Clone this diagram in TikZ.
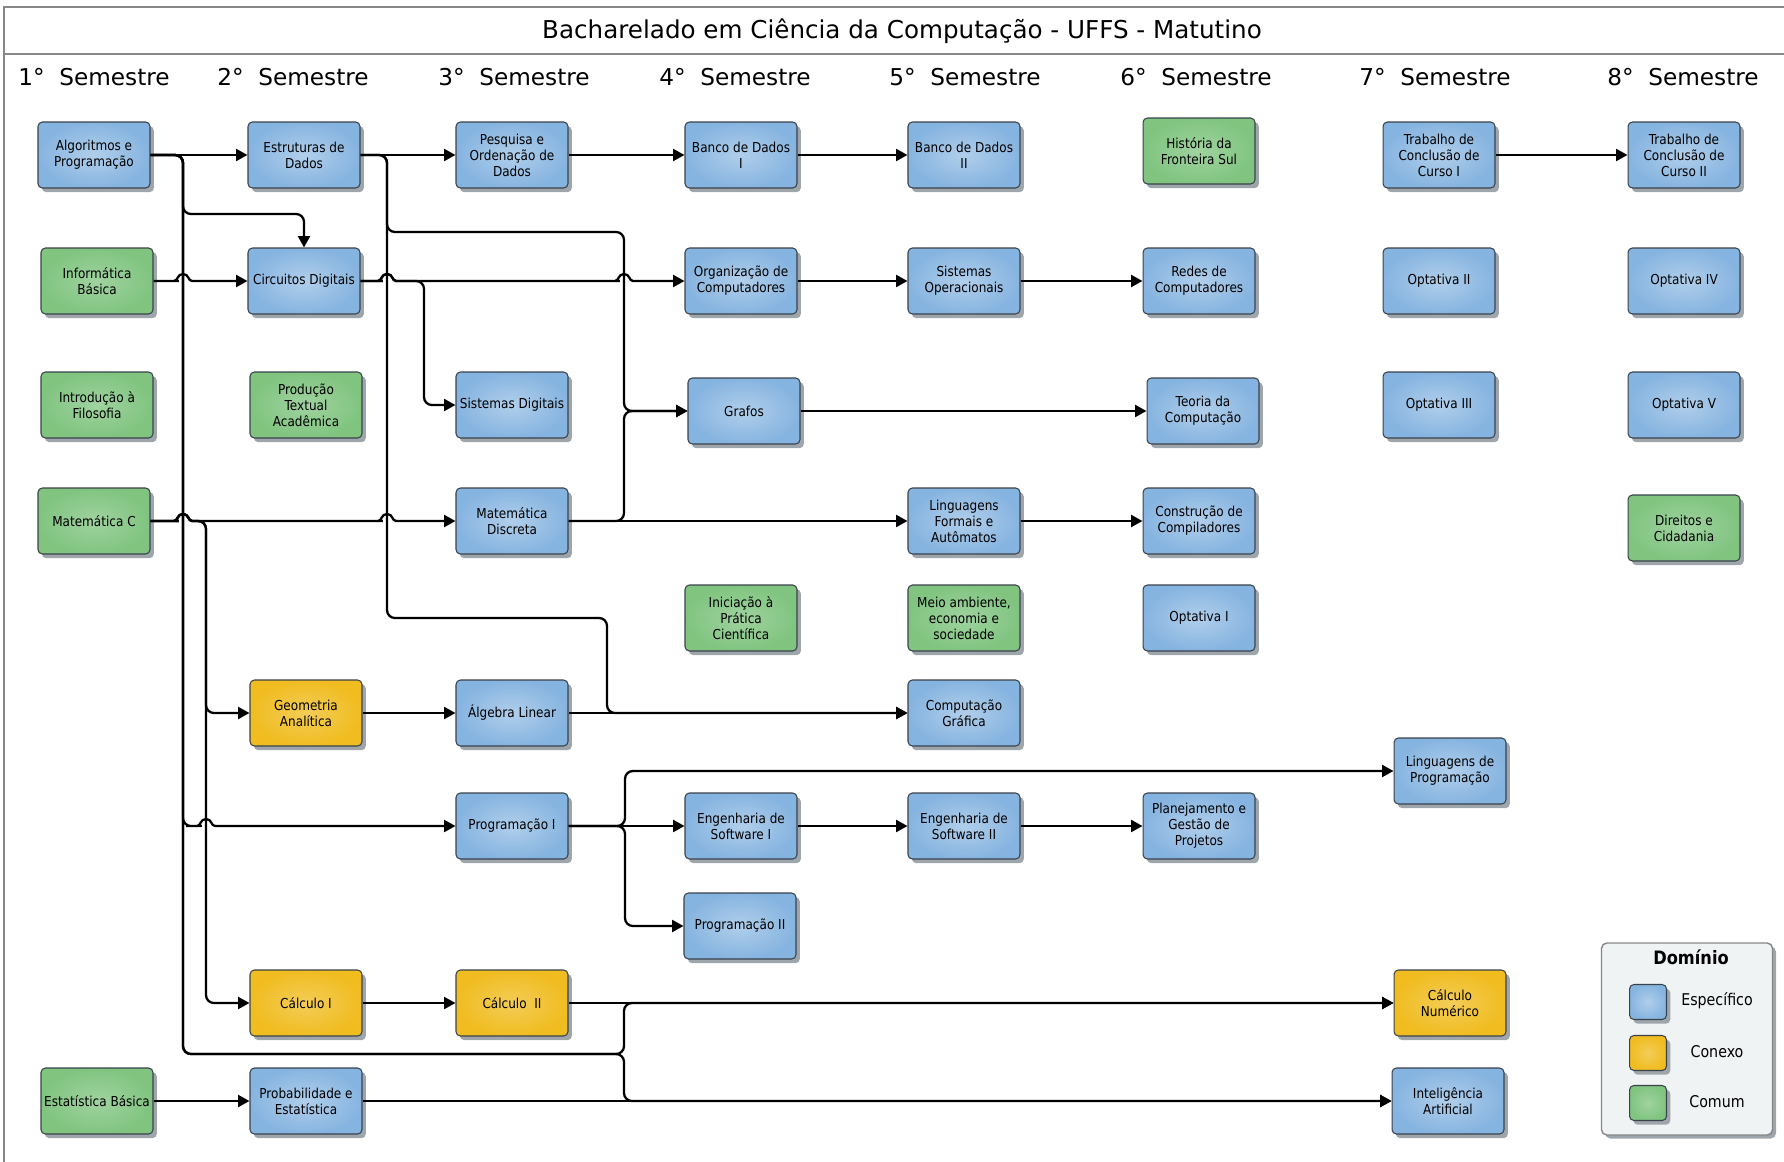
\documentclass[tikz,border=0pt]{standalone}
\usepackage{fontspec}
\setmainfont{DejaVu Sans}
\newfontfamily\boxfont{DejaVu Sans}[FakeStretch=0.88]
\usetikzlibrary{arrows.meta,shadows}

\definecolor{espec}{RGB}{134,180,224}
\definecolor{conexo}{RGB}{240,188,32}
\definecolor{comum}{RGB}{128,196,128}
\definecolor{borda}{RGB}{58,66,76}
\definecolor{sombra}{RGB}{158,166,172}
\definecolor{fundo}{RGB}{240,243,244}
\definecolor{moldura}{RGB}{135,135,135}

% pulo de uma linha horizontal sobre uma vertical em x=#1
\newcommand\pulo[2]{-- ({#1-12},#2) [sharp corners] -- ({#1-9},#2)
  .. controls ({#1-5},#2) and ({#1-6},{#2-7}) .. (#1,{#2-7})
  .. controls ({#1+6},{#2-7}) and ({#1+5},#2) .. ({#1+9},#2)
  -- ({#1+12},#2) [rounded corners=4.5pt]}

\begin{document}
\begin{tikzpicture}[x=0.02cm,y=-0.02cm,
  disc/.style={rectangle,rounded corners=2.5pt,draw=borda,line width=.6pt,
    minimum width=2.24cm,minimum height=1.32cm,inner sep=1pt,align=center,
    font=\boxfont\fontsize{7.8}{9.1}\selectfont,
    general shadow={fill=sombra,shadow xshift=2.2pt,shadow yshift=-2.4pt}},
  esp/.style={disc,inner color=espec!65!white,outer color=espec},
  cnx/.style={disc,inner color=conexo!75!white,outer color=conexo},
  com/.style={disc,inner color=comum!75!white,outer color=comum},
  link/.style={line width=1.3pt,rounded corners=4.5pt,
    -{Triangle[length=6.5pt,width=6.8pt]}},
  semestre/.style={font=\fontsize{13.2}{15}\selectfont}]
\useasboundingbox (0,0) rectangle (1784,1162);
% moldura e titulo
\draw[moldura,line width=.9pt] (1784,7) -- (4,7) -- (4,1162);
\draw[moldura,line width=.9pt] (4,54) -- (1784,54);
\node[font=\fontsize{14}{16}\selectfont] (titulo) at (902,31)
  {Bacharelado em Ciência da Computação - UFFS - Matutino};
\foreach \n/\x in {1/94,2/293,3/514,4/735,5/965,6/1196,7/1435,8/1683}
  \node[semestre] (sem\n) at (\x,77) {\n°\ \ Semestre};

% 1o semestre
\node[esp] (alg)  at (94,155)  {Algoritmos e\\Programação};
\node[com] (infb) at (97,281)  {Informática\\Básica};
\node[com] (ifil) at (97,405)  {Introdução à\\Filosofia};
\node[com] (matc) at (94,521)  {Matemática C};
\node[com] (estb) at (97,1101) {Estatística Básica};
% 2o semestre
\node[esp] (ed)    at (304,155)  {Estruturas de\\Dados};
\node[esp] (cd)    at (304,281)  {Circuitos Digitais};
\node[com] (ptac)  at (306,405)  {Produção\\Textual\\Acadêmica};
\node[cnx] (ga)    at (306,713)  {Geometria\\Analítica};
\node[cnx] (calc1) at (306,1003) {Cálculo I};
\node[esp] (probe) at (306,1101) {Probabilidade e\\Estatística};
% 3o semestre
\node[esp] (pod)   at (512,155)  {Pesquisa e\\Ordenação de\\Dados};
\node[esp] (sd)    at (512,405)  {Sistemas Digitais};
\node[esp] (md)    at (512,521)  {Matemática\\Discreta};
\node[esp] (al)    at (512,713)  {Álgebra Linear};
\node[esp] (prog1) at (512,826)  {Programação I};
\node[cnx] (calc2) at (512,1003) {Cálculo\ \ II};
% 4o semestre
\node[esp] (bd1)   at (741,155) {Banco de Dados\\I};
\node[esp] (oc)    at (741,281) {Organização de\\Computadores};
\node[esp] (graf)  at (744,411) {Grafos};
\node[com] (ipc)   at (741,618) {Iniciação à\\Prática\\Científica};
\node[esp] (es1)   at (741,826) {Engenharia de\\Software I};
\node[esp] (prog2) at (740,926) {Programação II};
% 5o semestre
\node[esp] (bd2)  at (964,155) {Banco de Dados\\II};
\node[esp] (so)   at (964,281) {Sistemas\\Operacionais};
\node[esp] (lfa)  at (964,521) {Linguagens\\Formais e\\Autômatos};
\node[com] (meio) at (964,618) {Meio ambiente,\\economia e\\sociedade};
\node[esp] (cg)   at (964,713) {Computação\\Gráfica};
\node[esp] (es2)  at (964,826) {Engenharia de\\Software II};
% 6o semestre
\node[com] (hfs)  at (1199,151) {História da\\Fronteira Sul};
\node[esp] (rc)   at (1199,281) {Redes de\\Computadores};
\node[esp] (tc)   at (1203,411) {Teoria da\\Computação};
\node[esp] (cc)   at (1199,521) {Construção de\\Compiladores};
\node[esp] (opt1) at (1199,618) {Optativa I};
\node[esp] (pgp)  at (1199,826) {Planejamento e\\Gestão de\\Projetos};
% 7o semestre
\node[esp] (tcc1) at (1439,155)  {Trabalho de\\Conclusão de\\Curso I};
\node[esp] (opt2) at (1439,281)  {Optativa II};
\node[esp] (opt3) at (1439,405)  {Optativa III};
\node[esp] (lp)   at (1450,771)  {Linguagens de\\Programação};
\node[cnx] (cn)   at (1450,1003) {Cálculo\\Numérico};
\node[esp] (ia)   at (1448,1101) {Inteligência\\Artificial};
% 8o semestre
\node[esp] (tcc2) at (1684,155) {Trabalho de\\Conclusão de\\Curso II};
\node[esp] (opt4) at (1684,281) {Optativa IV};
\node[esp] (opt5) at (1684,405) {Optativa V};
\node[com] (dc)   at (1684,528) {Direitos e\\Cidadania};

% pre-requisitos
\draw[link] (alg.east) -- (ed.west);
\draw[link] (alg.east) -| (183,214) -| (cd.north);
\draw[link] (alg.east) -| (183,826) \pulo{206}{826} -- (prog1.west);
\draw[link] (alg.east) -| (183,1054) -| (624,1003) -- (cn.west);
\draw[link] (alg.east) -| (183,1054) -| (624,1101) -- (ia.west);
\draw[link] (infb.east) \pulo{183}{281} -- (cd.west);
\draw[link] (matc.east) \pulo{183}{521} \pulo{387}{521} -- (md.west);
\draw[link] (matc.east) \pulo{183}{521} -| (206,713) -- (ga.west);
\draw[link] (matc.east) \pulo{183}{521} -| (206,1003) -- (calc1.west);
\draw[link] (ed.east) -- (pod.west);
\draw[link] (ed.east) -| (387,232) -| (624,411) -- (graf.west);
\draw[link] (ed.east) -| (387,618) -| (607,713) -- (cg.west);
\draw[link] (cd.east) \pulo{387}{281} \pulo{624}{281} -- (oc.west);
\draw[link] (cd.east) \pulo{387}{281} -| (424,405) -- (sd.west);
\draw[link] (md.east) -- (lfa.west);
\draw[link] (md.east) -| (624,411) -- (graf.west);
\draw[link] (ga.east) -- (al.west);
\draw[link] (al.east) -- (cg.west);
\draw[link] (prog1.east) -- (es1.west);
\draw[link] (prog1.east) -| (625,771) -- (lp.west);
\draw[link] (prog1.east) -| (625,926) -- (prog2.west);
\draw[link] (calc1.east) -- (calc2.west);
\draw[link] (calc2.east) -- (cn.west);
\draw[link] (estb.east) -- (probe.west);
\draw[link] (probe.east) -- (ia.west);
\draw[link] (pod.east) -- (bd1.west);
\draw[link] (bd1.east) -- (bd2.west);
\draw[link] (tcc1.east) -- (tcc2.west);
\draw[link] (oc.east) -- (so.west);
\draw[link] (so.east) -- (rc.west);
\draw[link] (graf.east) -- (tc.west);
\draw[link] (lfa.east) -- (cc.west);
\draw[link] (es1.east) -- (es2.west);
\draw[link] (es2.east) -- (pgp.west);

% legenda
\node[draw=moldura,fill=fundo,rounded corners=3pt,line width=.8pt,
  minimum width=3.42cm,minimum height=3.84cm,
  general shadow={fill=sombra,shadow xshift=2pt,shadow yshift=-2pt}] (leg) at (1687,1039) {};
\node[font=\boxfont\bfseries\fontsize{10.5}{12}\selectfont] (dom) at (1691,957) {Domínio};
\node[esp,minimum width=.74cm,minimum height=.7cm] (lesp) at (1648,1002) {};
\node[cnx,minimum width=.74cm,minimum height=.7cm] (lcnx) at (1648,1053) {};
\node[com,minimum width=.74cm,minimum height=.7cm] (lcom) at (1648,1103) {};
\node[font=\boxfont\fontsize{9.2}{11}\selectfont] (tesp) at (1717,1001) {Específico};
\node[font=\boxfont\fontsize{9.2}{11}\selectfont] (tcnx) at (1717,1052) {Conexo};
\node[font=\boxfont\fontsize{9.2}{11}\selectfont] (tcom) at (1717,1102) {Comum};
\end{tikzpicture}
\end{document}
